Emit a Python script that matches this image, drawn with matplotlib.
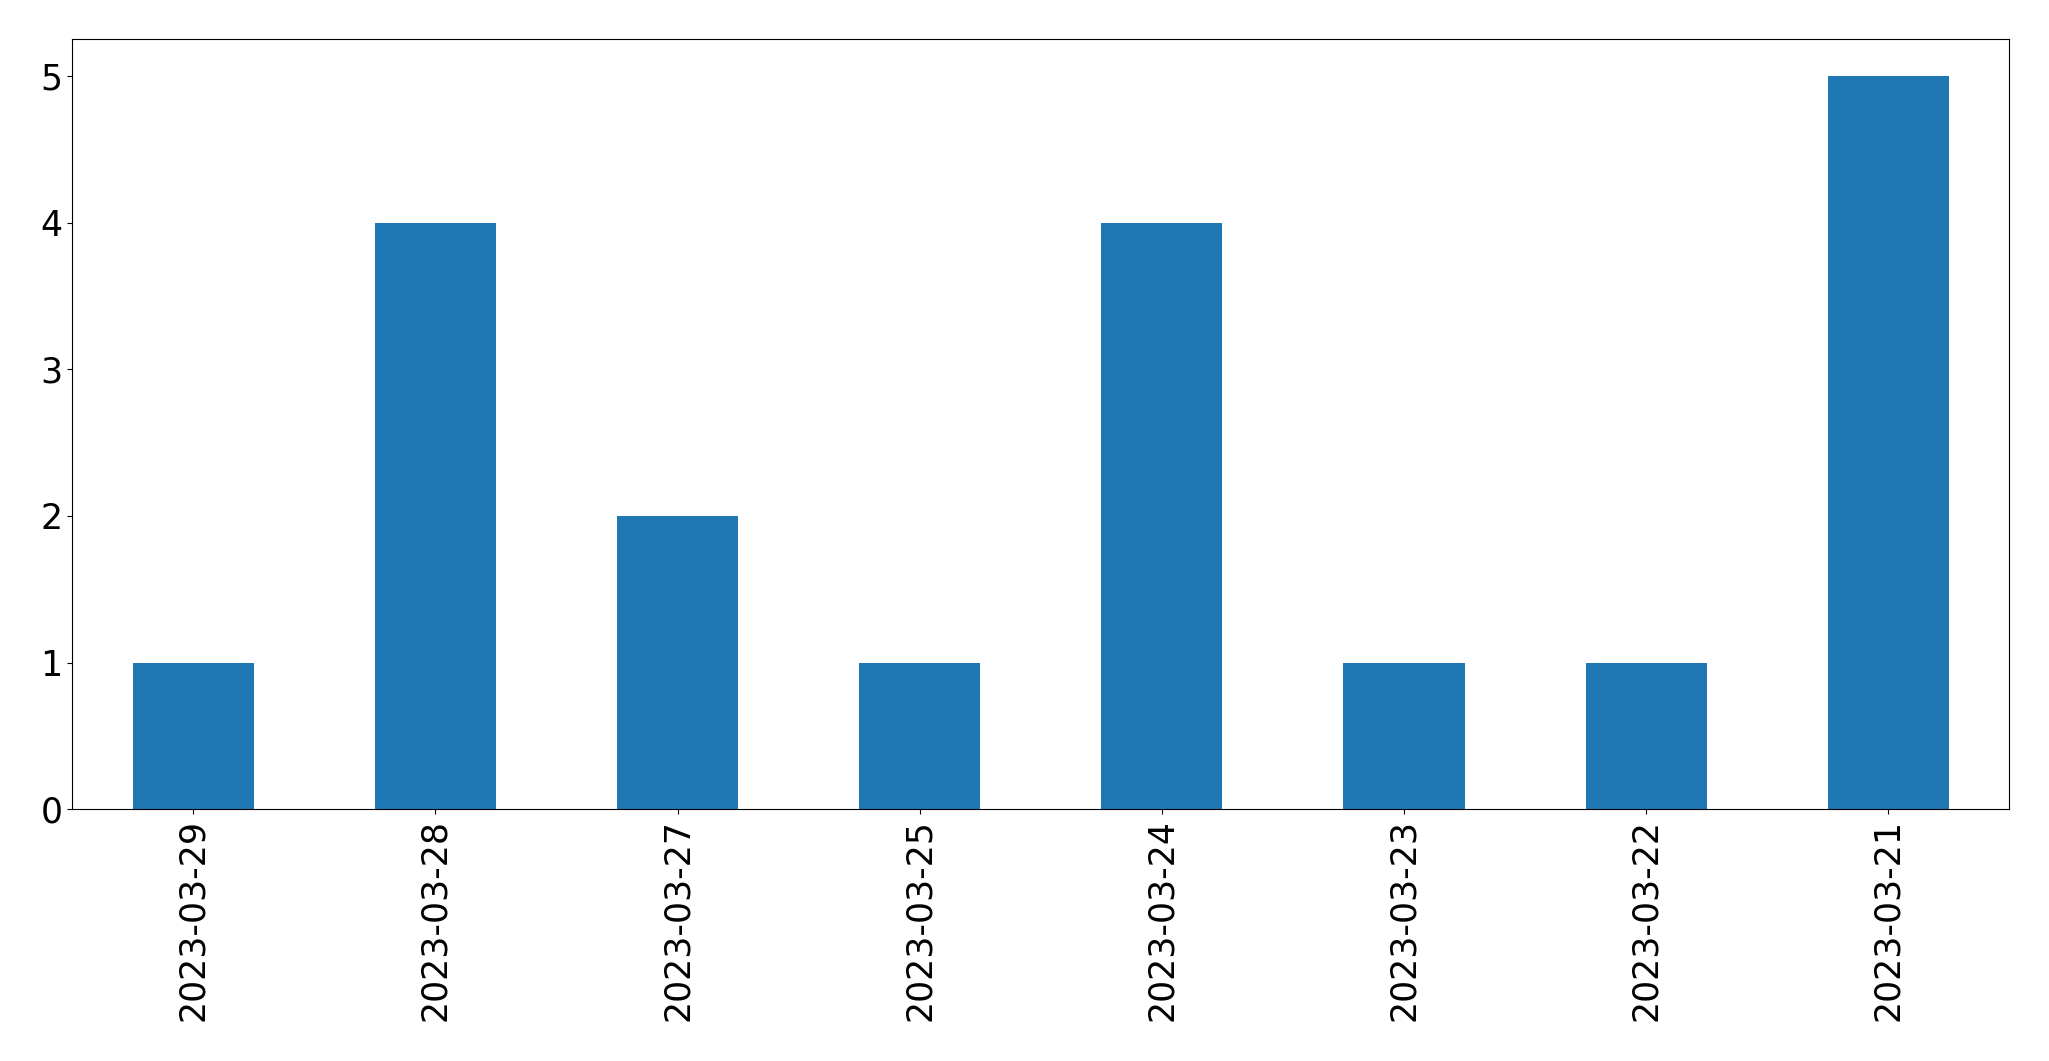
import matplotlib
matplotlib.use("Agg")
import matplotlib.pyplot as plt
import numpy as np

dates = ["2023-03-29", "2023-03-28", "2023-03-27", "2023-03-25",
         "2023-03-24", "2023-03-23", "2023-03-22", "2023-03-21"]
counts = [1, 4, 2, 1, 4, 1, 1, 5]

fig = plt.figure(figsize=(20.49, 10.61), dpi=100)
ax = fig.add_axes([72.3 / 2049, 1 - 809.3 / 1061, (2009.3 - 72.3) / 2049, (809.3 - 39.3) / 1061])
x = np.arange(len(dates))
ax.bar(x, counts, width=0.5, color="#1f77b4")
ax.set_xlim(-0.5, len(dates) - 0.5)
ax.set_xticks(x)
ax.set_xticklabels(dates, rotation=90, fontsize=25)
ax.tick_params(axis="y", labelsize=25)
ax.set_yticks([0, 1, 2, 3, 4, 5])
fig.savefig("out.png", dpi=100)
